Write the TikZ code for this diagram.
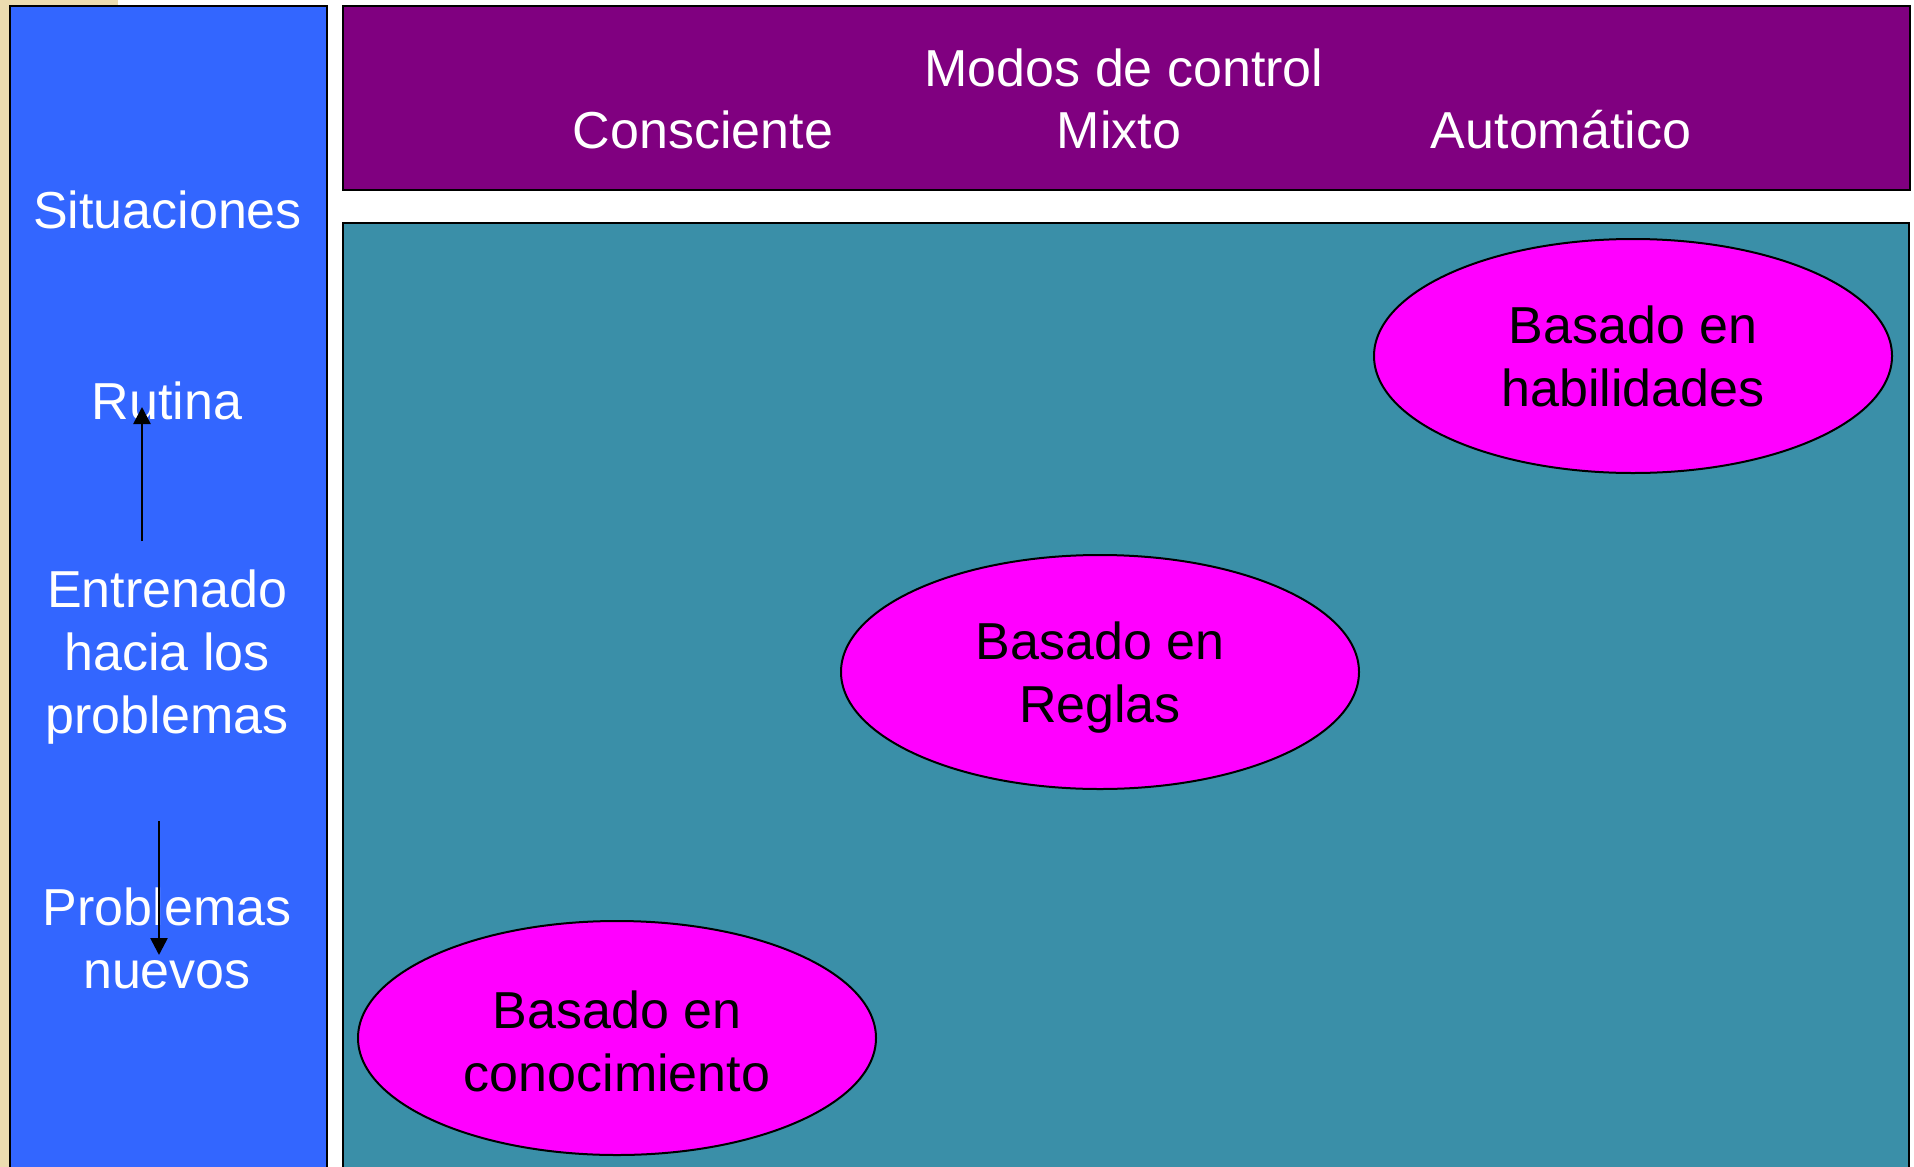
\documentclass[tikz,border=0pt]{standalone}
\usepackage{fontspec}
\setmainfont{Liberation Sans}
\usetikzlibrary{shapes.geometric,arrows.meta}
\definecolor{sitblue}{RGB}{51,102,255}
\definecolor{modpurple}{RGB}{128,0,128}
\definecolor{fieldteal}{RGB}{58,143,168}
\definecolor{paperbeige}{RGB}{236,220,176}
\definecolor{ovalpink}{RGB}{255,0,255}
\begin{document}
\begin{tikzpicture}[x=1pt,y=-1pt,
  panel/.style={draw=black,line width=2pt,rectangle,inner sep=0pt,anchor=north west},
  wlabel/.style={text=white,font=\fontsize{52}{63}\selectfont,align=center,inner sep=0pt},
  oval/.style={ellipse,draw=black,line width=2pt,fill=ovalpink,minimum width=518pt,minimum height=234pt,inner sep=0pt,font=\fontsize{52}{63}\selectfont,align=center},
  arr/.style={line width=2.6pt,-{Triangle[width=17pt,length=17pt]}}]
\useasboundingbox (0,0) rectangle (1914,1167);
\clip (0,0) rectangle (1914,1167);
\fill[white] (0,0) rectangle (1914,1167);
\fill[paperbeige] (0,0) rectangle (9,1167);
\fill[paperbeige] (0,0) rectangle (118,5);
% panels
\node[panel,fill=sitblue,minimum width=317pt,minimum height=1200pt] (sitcol) at (9,5) {};
\node[panel,fill=modpurple,minimum width=1567pt,minimum height=184pt] (modos) at (342,5) {};
\node[panel,fill=fieldteal,minimum width=1566pt,minimum height=980pt] (field) at (342,222) {};
% header texts
\node[wlabel,anchor=base] (modtitle) at (1124,86) {Modos de control};
\node[wlabel,anchor=base] (consc) at (703,148) {Consciente};
\node[wlabel,anchor=base] (mixto) at (1119,148) {Mixto};
\node[wlabel,anchor=base] (auto) at (1561,148) {Automático};
% left column texts
\node[wlabel,anchor=base] (situ) at (167.5,228) {Situaciones};
\node[wlabel,anchor=base] (rutina) at (167,419) {Rutina};
\node[wlabel] (entren) at (167,657) {Entrenado\\hacia los\\problemas};
\node[wlabel] (nuevos) at (167,938.5) {Problemas\\nuevos};
% ellipses
\node[oval] (habil) at (1633,356) {Basado en\\habilidades};
\node[oval] (reglas) at (1100,672) {Basado en\\\smash{Reglas}};
\node[oval] (conoc) at (617,1038) {\rule{0pt}{44pt}Basado en\\conocimiento};
% arrows
\coordinate (upfrom) at (142,541);
\coordinate (upto) at (142,407);
\coordinate (dnfrom) at (159,821);
\coordinate (dnto) at (159,955);
\draw[arr] (upfrom) -- (upto);
\draw[arr] (dnfrom) -- (dnto);
\end{tikzpicture}
\end{document}
